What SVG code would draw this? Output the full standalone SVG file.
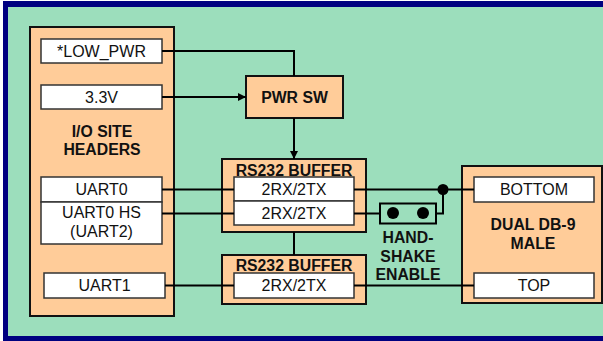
<svg xmlns="http://www.w3.org/2000/svg" width="603" height="341" viewBox="0 0 603 341">
<defs>
<style>
.blk{fill:#ffcc99;stroke:#111;stroke-width:2}
.wb{fill:#fff;stroke:#333;stroke-width:1.5}
.t{font-family:"Liberation Sans",Arial,sans-serif;font-size:16px;fill:#111;text-anchor:middle}
.b{font-weight:bold;font-size:15.8px}
.ln{stroke:#000;stroke-width:2;fill:none}
</style>
<marker id="ah" viewBox="0 0 10 10" refX="10" refY="5" markerWidth="8" markerHeight="10" markerUnits="userSpaceOnUse" orient="auto">
<path d="M0,0 L10,5 L0,10 Z" fill="#000"/>
</marker>
</defs>
<rect x="3" y="1" width="600" height="340" fill="#000080"/>
<rect x="8" y="7" width="595" height="329" fill="#9cdebc"/>

<g id="io-headers">
<rect class="blk" x="30" y="27" width="144" height="289"/>
<rect class="wb" x="41" y="39" width="121" height="24"/>
<text class="t" x="101.5" y="56.5">*LOW_PWR</text>
<rect class="wb" x="41" y="85" width="121" height="24"/>
<text class="t" x="101.5" y="102.5">3.3V</text>
<text class="t b" x="102" y="136.5">I/O SITE</text>
<text class="t b" x="102" y="155">HEADERS</text>
<rect class="wb" x="41" y="177" width="121" height="25"/>
<text class="t" x="101.5" y="195">UART0</text>
<rect class="wb" x="41" y="202" width="121" height="42"/>
<text class="t" x="101.5" y="218">UART0 HS</text>
<text class="t" x="101.5" y="237">(UART2)</text>
<rect class="wb" x="44" y="273" width="121" height="25"/>
<text class="t" x="104.5" y="291">UART1</text>
</g>

<g id="pwr-sw">
<rect class="blk" x="246" y="76" width="97" height="42"/>
<text class="t b" x="294.5" y="102.5">PWR SW</text>
</g>

<g id="rs232-buffer-1">
<rect class="blk" x="222" y="159" width="144" height="73"/>
<text class="t b" x="294" y="175.5">RS232 BUFFER</text>
<rect class="wb" x="234" y="177" width="120" height="24"/>
<text class="t" x="294" y="194.5">2RX/2TX</text>
<rect class="wb" x="234" y="201" width="120" height="24"/>
<text class="t" x="294" y="218.5">2RX/2TX</text>
</g>

<g id="rs232-buffer-2">
<rect class="blk" x="222" y="255" width="144" height="49"/>
<text class="t b" x="294" y="270.5">RS232 BUFFER</text>
<rect class="wb" x="234" y="273" width="120" height="25"/>
<text class="t" x="294" y="291">2RX/2TX</text>
</g>

<g id="handshake-jumper">
<rect x="380" y="203.5" width="56" height="20" fill="none" stroke="#000" stroke-width="2"/>
<circle cx="393" cy="213" r="6" fill="#000"/>
<circle cx="423" cy="213" r="6" fill="#000"/>
<text class="t b" x="408" y="243">HAND-</text>
<text class="t b" x="408" y="262">SHAKE</text>
<text class="t b" x="408" y="280">ENABLE</text>
</g>

<g id="db9">
<rect class="blk" x="462" y="166" width="140" height="137"/>
<rect class="wb" x="474" y="177" width="120" height="25"/>
<text class="t" x="534" y="195">BOTTOM</text>
<text class="t b" x="533" y="230">DUAL DB-9</text>
<text class="t b" x="533" y="248.5">MALE</text>
<rect class="wb" x="474" y="273" width="120" height="25"/>
<text class="t" x="534" y="291">TOP</text>
</g>

<g id="connectors">
<polyline class="ln" points="162,51 294,51 294,76"/>
<line class="ln" x1="162" y1="97" x2="246" y2="97" marker-end="url(#ah)"/>
<line class="ln" x1="294" y1="118" x2="294" y2="159" marker-end="url(#ah)"/>
<line class="ln" x1="294" y1="232" x2="294" y2="255"/>
<line class="ln" x1="162" y1="189.5" x2="234" y2="189.5"/>
<line class="ln" x1="162" y1="213.5" x2="234" y2="213.5"/>
<line class="ln" x1="165" y1="285.5" x2="234" y2="285.5"/>
<line class="ln" x1="354" y1="189.5" x2="474" y2="189.5"/>
<line class="ln" x1="354" y1="213.5" x2="380" y2="213.5"/>
<polyline class="ln" points="436,213.5 443,213.5 443,189.5"/>
<circle cx="443" cy="189.5" r="5.5" fill="#000"/>
<line class="ln" x1="354" y1="285.5" x2="474" y2="285.5"/>
</g>
</svg>
